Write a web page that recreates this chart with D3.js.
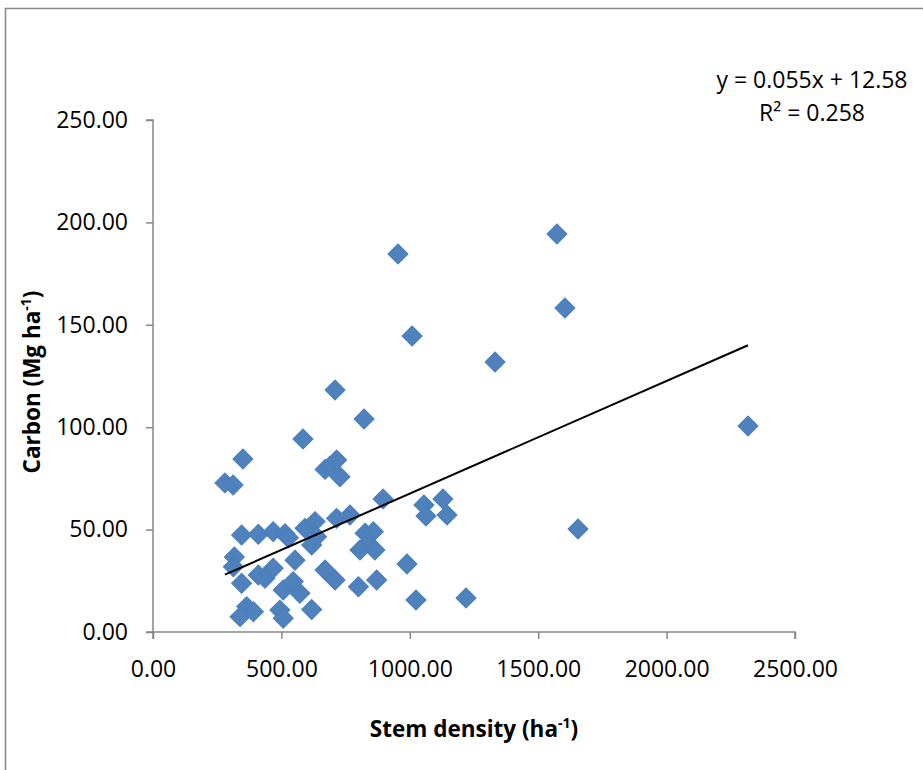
<!DOCTYPE html>
<html>
<head>
<meta charset="utf-8">
<script src="https://cdn.jsdelivr.net/npm/d3@7"></script>
<style>
  body { margin: 0; background: #fff; }
  text { font-family: "Open Sans", "Liberation Sans", sans-serif; fill: #000; }
</style>
</head>
<body>
<div id="viz"></div>
<script>
const width = 923,
    height = 770;

// stem density (ha-1) and carbon (Mg ha-1)
const stemDensity = [1573, 954, 1604, 1009, 1332, 2317, 709, 822, 584, 350, 280, 312,
    1655, 1055, 1063, 1129, 1145, 896, 989, 1024, 1219,
    670, 689, 715, 728,
    345, 410, 468, 514, 527, 592, 317, 313, 345, 410, 436, 468, 553, 507, 546, 572,
    365, 391, 339, 494, 507, 618,
    631, 637, 618, 715, 767, 826, 858, 838, 806, 864, 670, 709, 800, 871];
const carbon = [194.3, 184.6, 158.2, 144.5, 131.8, 100.6, 118.2, 104, 94.2, 84.5, 72.8, 71.8,
    50.3, 62, 56.6, 65, 57.1, 65, 33.2, 15.6, 16.6,
    79.4, 81, 84, 75.8,
    47.4, 47.7, 49, 48, 46, 50.6, 36.6, 31.9, 23.8, 27.8, 26.2, 31.1, 35, 20.5, 24.6, 18.9,
    12.4, 9.9, 7.5, 10.7, 6.7, 11,
    53.9, 46.5, 42.5, 55.5, 57.1, 48.2, 49, 43.3, 40, 40, 30.3, 25.4, 22.1, 25.4];

const xTicks = [0, 500, 1000, 1500, 2000, 2500];
const yTicks = [0, 50, 100, 150, 200, 250];

const slope = 0.055, intercept = 12.58;
const eqLines = ["y = 0.055x + 12.58", "R² = 0.258"];

const points = stemDensity.map((d, i) => ({ x: d, y: carbon[i] }));

const svg = d3.select("#viz").append("svg")
    .attr("width", width)
    .attr("height", height);

// chart frame
svg.append("rect")
    .attr("x", 5.5).attr("y", 8.5)
    .attr("width", 1000).attr("height", 1000)
    .attr("fill", "none")
    .attr("stroke", "#868686")
    .attr("stroke-width", 1.5);

const x = d3.scaleLinear().domain([0, 2500]).range([153, 795]);
const y = d3.scaleLinear().domain([0, 250]).range([632, 120]);

const axisColor = "#868686";

const xAxis = svg.append("g")
    .attr("transform", "translate(0," + y(0) + ")")
    .call(d3.axisBottom(x).tickValues(xTicks).tickSize(7).tickPadding(22)
        .tickFormat(d3.format(".2f")));

const yAxis = svg.append("g")
    .attr("transform", "translate(" + x(0) + ",0)")
    .call(d3.axisLeft(y).tickValues(yTicks).tickSize(7).tickPadding(18)
        .tickFormat(d3.format(".2f")));

[xAxis, yAxis].forEach(g => {
    g.select(".domain").attr("stroke", axisColor).attr("stroke-width", 1.5);
    g.selectAll(".tick line").attr("stroke", axisColor).attr("stroke-width", 1.5);
    g.selectAll(".tick text")
        .attr("fill", "#000")
        .style("font-size", "23px")
        .style("font-family", "'Open Sans', sans-serif");
});
xAxis.select(".domain").attr("d", "M" + x(0) + ",7V0H" + x(2500) + "V7");
yAxis.select(".domain").attr("d", "M-7," + y(250) + "H0V" + y(0) + "H-7");

// markers
svg.append("g").selectAll("path")
    .data(points)
    .enter().append("path")
    .attr("d", d3.symbol().type(d3.symbolSquare).size(200))
    .attr("transform", d => "translate(" + x(d.x) + "," + y(d.y) + ") rotate(45)")
    .attr("fill", "#4f81bd")
    .attr("stroke", "#4a7ebb")
    .attr("stroke-width", 1);

// linear trendline
const xExt = d3.extent(stemDensity);
svg.append("line")
    .attr("x1", x(xExt[0])).attr("y1", y(slope * xExt[0] + intercept))
    .attr("x2", x(xExt[1])).attr("y2", y(slope * xExt[1] + intercept))
    .attr("stroke", "#000")
    .attr("stroke-width", 2);

// trendline equation
svg.append("g").selectAll("text")
    .data(eqLines)
    .enter().append("text")
    .attr("x", 812)
    .attr("y", (d, i) => 88 + i * 33)
    .attr("text-anchor", "middle")
    .style("font-size", "23px")
    .text(d => d);

// axis titles
const xTitle = svg.append("text")
    .attr("x", 474).attr("y", 737)
    .attr("text-anchor", "middle")
    .style("font-size", "22.5px")
    .style("font-weight", "bold");
xTitle.append("tspan").text("Stem density (ha");
xTitle.append("tspan").attr("dy", -9).style("font-size", "14px").text("-1");
xTitle.append("tspan").attr("dy", 9).text(")");

const yTitle = svg.append("text")
    .attr("transform", "translate(40," + 382 + ") rotate(-90)")
    .attr("text-anchor", "middle")
    .style("font-size", "22.5px")
    .style("font-weight", "bold");
yTitle.append("tspan").text("Carbon (Mg ha");
yTitle.append("tspan").attr("dy", -9).style("font-size", "14px").text("-1");
yTitle.append("tspan").attr("dy", 9).text(")");
</script>
</body>
</html>
